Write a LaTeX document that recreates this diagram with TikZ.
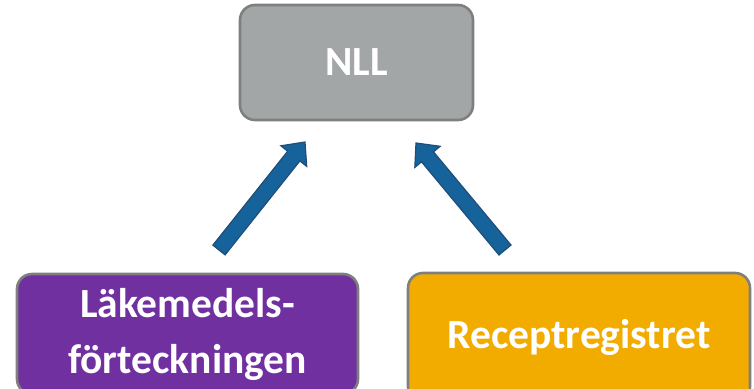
\documentclass[tikz,border=0pt]{standalone}
\usepackage{fontspec}
\setmainfont{Carlito}
\usetikzlibrary{calc}

\definecolor{nllgray}{HTML}{A3A6A6}
\definecolor{lmfpurple}{HTML}{7030A0}
\definecolor{rrorange}{HTML}{F2AC00}
\definecolor{arrowblue}{HTML}{16629A}
\definecolor{arrowedge}{HTML}{1F4E79}
\definecolor{boxedge}{HTML}{7F7F7F}

\tikzset{
  box/.style={draw=boxedge, line width=2.6pt, rounded corners=15pt,
    text=white, font=\fontsize{41.5}{56}\selectfont\bfseries, align=center},
  arrowbody/.style={fill=arrowblue, draw=arrowedge, line width=1.2pt, line join=miter}
}

% block arrow from #1 (tail) to #2 (tip)
\newcommand{\fatarrow}[2]{%
  \coordinate (#1-base) at ($(#2)!18pt!(#1)$);
  \draw[arrowbody] ($(#1)!7.8pt!90:(#2)$) -- ($(#1-base)!7.8pt!-90:(#1)$)
    -- ($(#1-base)!16.5pt!-90:(#1)$) -- (#2) -- ($(#1-base)!16.5pt!90:(#1)$)
    -- ($(#1-base)!7.8pt!90:(#1)$) -- ($(#1)!7.8pt!-90:(#2)$) -- cycle;}

\begin{document}
\begin{tikzpicture}[x=1pt, y=1pt]

  \clip (0,0) rectangle (754,-388);

  \node[box, fill=nllgray, minimum width=233pt, minimum height=115pt] (nll)
    at (356.5,-62.5) {NLL};
  \node[box, fill=lmfpurple, minimum width=341pt, minimum height=120pt] (lmf)
    at (187.5,-334) {Läkemedels-\\förteckningen};
  \node[box, fill=rrorange, minimum width=342pt, minimum height=129pt] (rr)
    at (579,-337.5) {Receptregistret};

  \coordinate (ltail) at (219,-250);
  \coordinate (ltip) at (305,-142);
  \coordinate (rtail) at (505,-250);
  \coordinate (rtip) at (416,-143);

  \fatarrow{ltail}{ltip}
  \fatarrow{rtail}{rtip}

\end{tikzpicture}
\end{document}
